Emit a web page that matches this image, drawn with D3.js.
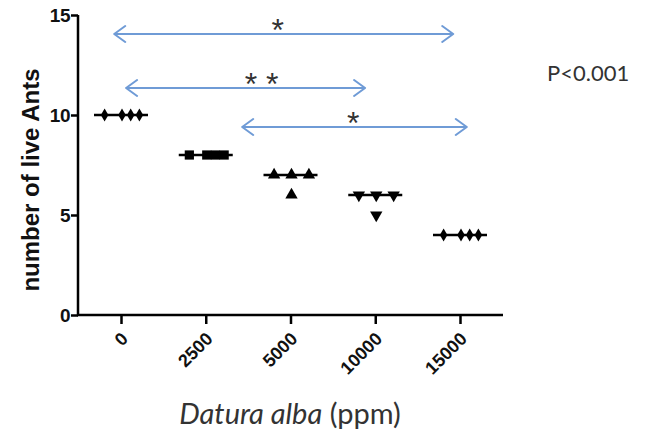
<!DOCTYPE html>
<html>
<head>
<meta charset="utf-8">
<script src="https://cdn.jsdelivr.net/npm/d3@7"></script>
<style>
  body { margin: 0; background: #fff; }
</style>
</head>
<body>
<div id="chart"></div>
<script>
const chart_width = 647;
const chart_height = 432;

// groups and the counts
const doses = ['0', '2500', '5000', '10000', '15000'];
const live_0 = [10, 10, 10, 10];
const live_2500 = [8, 8, 8, 8];
const live_5000 = [7, 7, 7, 6];
const live_10000 = [6, 6, 6, 5];
const live_15000 = [4, 4, 4, 4];
const medians = [10, 8, 7, 6, 4];
const y_ticks = [0, 5, 10, 15];

// comparisons drawn as arrows: [from group, to group, height, stars]
const comp_from = [-0.08, 0.06, 1.43];
const comp_to = [3.92, 2.88, 4.08];
const comp_level = [14.05, 11.35, 9.4];
const comp_stars = ['*', '* *', '*'];

// spread of equal points inside a column (slot index)
const slots = [[-2, 0, 1, 2], [-2, 0, 1, 2], [-2, 0, 2, 0], [-2, 0, 2, 0], [-2, 0, 1, 2]];
const symbols = [d3.symbolDiamond, d3.symbolSquare, d3.symbolTriangle, d3.symbolTriangle, d3.symbolDiamond];
const sym_size = [50, 85, 66, 66, 50];
const sym_rot = [0, 0, 0, 180, 0];

const arrow_color = '#6f9bd6';

function draw_chart(){
    const series = [live_0, live_2500, live_5000, live_10000, live_15000];

    var svg = d3.select('#chart')
                .append('svg')
                .attr('width', chart_width)
                .attr('height', chart_height)
                .style('font-family', 'Liberation Sans, Arial, sans-serif');

    var xScale = d3.scalePoint()
                    .domain(doses)
                    .range([121, 460]);
    var xIndex = d3.scaleLinear()
                    .domain([0, 4])
                    .range([121, 460]);
    var yScale = d3.scaleLinear()
                    .domain([0, 15])
                    .range([315, 15]);

    // y axis
    var yAxis = svg.append('g')
        .attr('transform', 'translate(78,0)')
        .call(d3.axisLeft(yScale).tickValues(y_ticks).tickSize(7).tickPadding(1));
    yAxis.select('.domain').attr('stroke-width', 2.5).attr('d', 'M0,' + yScale(15) + 'V' + yScale(0));
    yAxis.selectAll('.tick line').attr('stroke-width', 2.5);
    yAxis.selectAll('.tick text')
        .attr('font-size', 19).attr('font-weight', 'bold').attr('fill', '#111')
        .attr('letter-spacing', -0.5);

    // x axis
    var xAxis = svg.append('g')
        .attr('transform', 'translate(0,' + yScale(0) + ')')
        .call(d3.axisBottom(xScale).tickSize(9).tickFormat(''));
    xAxis.select('.domain').attr('stroke-width', 2.5).attr('d', 'M77,0H503');
    xAxis.selectAll('.tick line').attr('stroke-width', 2.5);

    svg.append('g')
        .selectAll('.dose_label')
        .data(doses)
        .enter()
        .append('text')
        .attr('class', 'dose_label')
        .attr('transform', function(d){ return 'translate(' + (xScale(d) + 8) + ',' + (yScale(0) + 25) + ') rotate(-45)'; })
        .attr('text-anchor', 'end')
        .attr('font-size', 18)
        .attr('font-weight', 'bold')
        .attr('fill', '#111')
        .text(function(d){ return d; });

    // axis titles
    svg.append('text')
        .attr('transform', 'translate(39,180) rotate(-90)')
        .attr('text-anchor', 'middle')
        .attr('font-size', 24)
        .attr('font-weight', 'bold')
        .attr('fill', '#111')
        .text('number of live Ants');

    var xt = svg.append('text')
        .attr('x', 290)
        .attr('y', 424)
        .attr('text-anchor', 'middle')
        .attr('font-family', 'Lato, Open Sans, sans-serif')
        .attr('font-size', 29)
        .attr('fill', '#333');
    xt.append('tspan').attr('font-style', 'italic').text('Datura alba');
    xt.append('tspan').text(' (ppm)');

    // median lines
    svg.append('g')
        .selectAll('.median')
        .data(medians)
        .enter()
        .append('line')
        .attr('x1', function(d, i){ return xIndex(i) - 27; })
        .attr('x2', function(d, i){ return xIndex(i) + 27; })
        .attr('y1', function(d){ return yScale(d); })
        .attr('y2', function(d){ return yScale(d); })
        .attr('stroke', '#000')
        .attr('stroke-width', 2.5);

    // points
    var points = [];
    series.forEach(function(vals, g){
        vals.forEach(function(v, k){
            points.push({ g: g, v: v, slot: slots[g][k] });
        });
    });
    svg.append('g')
        .selectAll('.pt')
        .data(points)
        .enter()
        .append('path')
        .attr('class', 'pt')
        .attr('d', function(d){ return d3.symbol().type(symbols[d.g]).size(sym_size[d.g])(); })
        .attr('transform', function(d){
            return 'translate(' + (xIndex(d.g) + d.slot * 8.7 + 1) + ',' + yScale(d.v) + ') rotate(' + sym_rot[d.g] + ')';
        })
        .attr('fill', '#000');

    // comparison arrows
    var comps = comp_level.map(function(l, i){
        return { x1: xIndex(comp_from[i]), x2: xIndex(comp_to[i]), y: yScale(l), s: comp_stars[i] };
    });
    var ag = svg.append('g')
        .attr('fill', 'none')
        .attr('stroke', arrow_color)
        .attr('stroke-width', 2)
        .attr('stroke-linecap', 'round')
        .attr('stroke-linejoin', 'round');
    ag.selectAll('.arrow')
        .data(comps)
        .enter()
        .append('path')
        .attr('d', function(d){
            return 'M' + d.x1 + ',' + d.y + 'H' + d.x2 +
                'M' + (d.x1 + 11) + ',' + (d.y - 8) + 'L' + d.x1 + ',' + d.y + 'L' + (d.x1 + 11) + ',' + (d.y + 8) +
                'M' + (d.x2 - 11) + ',' + (d.y - 8) + 'L' + d.x2 + ',' + d.y + 'L' + (d.x2 - 11) + ',' + (d.y + 8);
        });
    svg.append('g')
        .selectAll('.stars')
        .data(comps)
        .enter()
        .append('text')
        .attr('x', function(d, i){ return i == 2 ? xIndex(2.74) : (d.x1 + d.x2) / 2 + (i == 1 ? 16 : -6); })
        .attr('y', function(d){ return d.y + 7; })
        .attr('text-anchor', 'middle')
        .attr('font-size', 32)
        .attr('fill', '#333')
        .text(function(d){ return d.s; });

    svg.append('text')
        .attr('x', 547)
        .attr('y', 81)
        .attr('font-family', 'Lato, Open Sans, sans-serif')
        .attr('font-size', 22)
        .attr('fill', '#333')
        .text('P<0.001');
}

draw_chart();
</script>
</body>
</html>
